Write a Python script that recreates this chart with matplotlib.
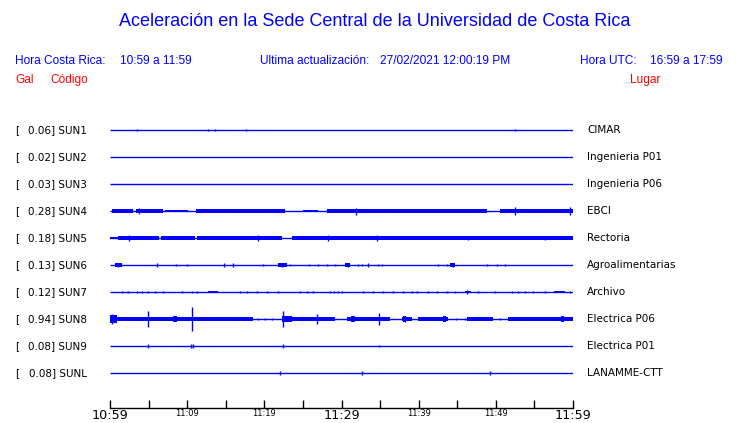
import matplotlib
matplotlib.use("Agg")
import matplotlib.pyplot as plt

# ---------------- data ----------------
stations = ["SUN1", "SUN2", "SUN3", "SUN4", "SUN5", "SUN6", "SUN7", "SUN8", "SUN9", "SUNL"]
peak_gal = [0.06, 0.02, 0.03, 0.28, 0.18, 0.13, 0.12, 0.94, 0.08, 0.08]
places = ["CIMAR", "Ingenieria P01", "Ingenieria P06", "EBCI", "Rectoria",
          "Agroalimentarias", "Archivo", "Electrica P06", "Electrica P01", "LANAMME-CTT"]

# minutes after 10:59 ; half-amplitude as fraction of trace spacing
bands = {
    "SUN4": [(0.2, 3.0, .06), (3.4, 6.9, .07), (7.1, 10.1, .05), (11.2, 22.7, .06),
             (25.0, 27.0, .05), (28.1, 48.8, .06), (50.5, 60.0, .08)],
    "SUN5": [(0.0, 1.0, .04), (1.0, 6.4, .06), (6.6, 11.0, .06), (11.3, 22.3, .06),
             (23.6, 60.0, .06)],
    "SUN6": [(0.6, 1.5, .07), (21.8, 23.0, .07), (30.4, 31.1, .06), (44.1, 44.7, .06)],
    "SUN7": [(12.7, 14.0, .05), (46.0, 46.8, .05), (57.6, 58.9, .05)],
    "SUN8": [(0.0, 0.9, .15), (0.9, 18.5, .07), (3.0, 3.6, .09), (8.2, 8.7, .11),
             (22.3, 23.6, .12), (23.6, 26.3, .07), (26.3, 29.1, .07), (30.7, 36.3, .07),
             (31.2, 31.8, .11), (37.8, 39.2, .07), (38.0, 38.4, .10), (39.9, 43.8, .07),
             (43.1, 43.5, .10), (46.3, 49.6, .06), (51.6, 60.0, .07), (58.4, 58.8, .10)],
}
spikes = {
    "SUN1": [(3.5, .05), (12.7, .05), (13.6, .03), (17.6, .05), (52.5, .03)],
    "SUN4": [(3.8, .12), (31.9, .13), (52.5, .15), (59.6, .15)],
    "SUN5": [(2.5, .10), (19.2, .12), (28.2, .12), (34.6, .10), (46.4, .09), (56.4, .09)],
    "SUN6": [(1.0, .08), (6.1, .06), (8.6, .05), (10.0, .03), (14.8, .06), (15.9, .06),
             (19.8, .03), (22.3, .08), (23.3, .05), (25.8, .03), (27.0, .04), (28.1, .04),
             (29.2, .05), (30.8, .07), (32.1, .05), (32.7, .05), (33.4, .09), (34.7, .05),
             (35.2, .05), (42.5, .03), (43.7, .04), (44.4, .07), (48.9, .05), (50.1, .03),
             (51.2, .05)],
    "SUN7": [(1.6, .05), (2.3, .05), (3.5, .05), (4.1, .05), (4.9, .05), (5.8, .05),
             (6.9, .05), (9.3, .05), (10.6, .05), (11.3, .05), (16.8, .05), (17.8, .05),
             (19.0, .05), (20.3, .05), (21.8, .05), (24.6, .05), (25.5, .05), (26.3, .05),
             (28.5, .05), (29.0, .05), (29.5, .05), (30.1, .05), (32.8, .05), (34.1, .05),
             (35.4, .05), (36.7, .05), (38.0, .05), (39.1, .05), (39.8, .05), (41.2, .05),
             (42.4, .05), (43.7, .05), (44.7, .05), (46.3, .06), (47.7, .05), (49.9, .05),
             (52.1, .05), (52.9, .05), (53.8, .05), (54.8, .05), (56.4, .05), (59.6, .05)],
    "SUN8": [(0.3, .18), (4.9, .28), (10.6, .44), (19.2, .05), (20.1, .05), (21.0, .05),
             (22.4, .28), (26.8, .17), (34.8, .22), (38.2, .10), (44.9, .05), (46.0, .05),
             (50.5, .05)],
    "SUN9": [(4.9, .07), (10.5, .06), (10.7, .06), (22.4, .06), (34.8, .04)],
    "SUNL": [(22.0, .08), (32.7, .07), (49.2, .07)],
}
tick_minutes = [0, 10, 20, 30, 40, 50, 60]
tick_labels = ["10:59", "11:09", "11:19", "11:29", "11:39", "11:49", "11:59"]
minor_minutes = [5, 15, 25, 35, 45, 55]

# ---------------- figure ----------------
BLUE = "#0000ff"
RED = "#ff0000"
W, H = 740, 423
fig = plt.figure(figsize=(W / 100, H / 100), dpi=100)

def fx(px):
    return px / W

def fy(py):
    return 1 - py / H

ax = fig.add_axes([fx(110), fy(408), fx(573) - fx(110), fy(115) - fy(408)])
ax.set_xlim(0, 60)
ax.set_ylim(10.296, -0.556)

for i, st in enumerate(stations):
    ax.plot([0, 60], [i, i], color=BLUE, lw=1.0, solid_capstyle="butt")
    for t0, t1, a in bands.get(st, []):
        ax.fill_between([t0, t1], [i - a, i - a], [i + a, i + a], color=BLUE, lw=0)
    for t, a in spikes.get(st, []):
        ax.vlines(t, i - a, i + a, color=BLUE, lw=1.0)

for s in ["left", "right", "top"]:
    ax.spines[s].set_visible(False)
ax.spines["bottom"].set_color("black")
ax.spines["bottom"].set_linewidth(1.0)
ax.set_yticks([])
ax.set_xticks(tick_minutes)
ax.set_xticklabels(tick_labels)
ax.set_xticks(minor_minutes, minor=True)
ax.tick_params(axis="x", which="both", direction="in", length=6, width=1.0,
               color="black", pad=1)
for lbl, m in zip(ax.get_xticklabels(), tick_minutes):
    lbl.set_fontsize(9.2 if m in (0, 30, 60) else 6.0)
    lbl.set_family("DejaVu Sans")

# ---------------- texts ----------------
hfont = "Liberation Sans"
fig.text(fx(375), fy(22), "Aceleración en la Sede Central de la Universidad de Costa Rica",
         ha="center", va="center", color=BLUE, fontsize=13, family=hfont)
fig.text(fx(15), fy(61), "Hora Costa Rica:", ha="left", va="center", color=BLUE,
         fontsize=8.6, family=hfont)
fig.text(fx(120), fy(61), "10:59 a 11:59", ha="left", va="center", color=BLUE,
         fontsize=8.6, family=hfont)
fig.text(fx(260), fy(61), "Ultima actualización:", ha="left", va="center", color=BLUE,
         fontsize=8.6, family=hfont)
fig.text(fx(380), fy(61), "27/02/2021 12:00:19 PM", ha="left", va="center", color=BLUE,
         fontsize=8.6, family=hfont)
fig.text(fx(580), fy(61), "Hora UTC:", ha="left", va="center", color=BLUE,
         fontsize=8.6, family=hfont)
fig.text(fx(723), fy(61), "16:59 a 17:59", ha="right", va="center", color=BLUE,
         fontsize=8.6, family=hfont)
fig.text(fx(15), fy(80), "Gal", ha="left", va="center", color=RED, fontsize=8.6, family=hfont)
fig.text(fx(50), fy(80), "Código", ha="left", va="center", color=RED, fontsize=8.6, family=hfont)
fig.text(fx(630), fy(80), "Lugar", ha="left", va="center", color=RED, fontsize=8.6, family=hfont)

for i, (st, g, pl) in enumerate(zip(stations, peak_gal, places)):
    yy = 130 + 27 * i
    fig.text(fx(15), fy(yy), "[", ha="left", va="center", color="black",
             fontsize=7.5, family="DejaVu Sans")
    fig.text(fx(87), fy(yy), f"{g:.2f}] {st}", ha="right", va="center", color="black",
             fontsize=7.5, family="DejaVu Sans")
    fig.text(fx(587), fy(yy), pl, ha="left", va="center", color="black",
             fontsize=7.5, family="DejaVu Sans")

fig.savefig("out.png", dpi=100)
